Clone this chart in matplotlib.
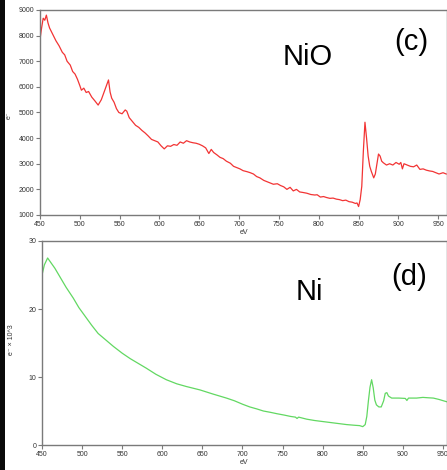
import matplotlib
matplotlib.use('Agg')
import matplotlib.pyplot as plt
from matplotlib.patches import Rectangle

plt.rcParams['font.family'] = ['Liberation Sans', 'DejaVu Sans']

# NiO survey spectrum (counts vs binding energy)
nio_ev = [450, 452, 454, 456, 458, 460, 462, 466, 470, 474, 478, 481, 484, 488, 491, 494,
          497, 500, 502, 505, 508, 511, 515, 519, 523, 527, 531, 534, 536, 538, 540, 543,
          546, 549, 553, 557, 559, 562, 566, 570, 574, 578, 582, 586, 590, 594, 598, 602,
          606, 610, 614, 618, 622, 626, 630, 634, 638, 642, 646, 650, 654, 658, 662, 665,
          668, 672, 676, 680, 684, 689, 693, 697, 701, 705, 710, 714, 718, 722, 726, 731,
          735, 739, 743, 748, 752, 756, 760, 764, 768, 772, 776, 780, 785, 790, 795, 798,
          802, 806, 810, 814, 818, 822, 826, 830, 834, 838, 842, 846, 848, 850, 852, 854,
          856, 858, 860, 862, 864, 866, 869, 871, 873, 875, 877, 879, 881, 885, 889, 893,
          897, 901, 903, 905, 907, 911, 915, 919, 923, 927, 931, 935, 939, 943, 947, 951,
          956, 960]
nio_counts = [7850, 8300, 8680, 8600, 8800, 8500, 8300, 8050, 7800, 7600, 7350, 7250, 7000,
              6850, 6600, 6500, 6300, 6050, 5870, 5950, 5780, 5820, 5600, 5450, 5290, 5500,
              5850, 6100, 6270, 5800, 5560, 5400, 5150, 5000, 4950, 5100, 5050, 4800, 4650,
              4500, 4420, 4300, 4200, 4080, 3950, 3900, 3850, 3700, 3580, 3700, 3680, 3750,
              3720, 3850, 3800, 3900, 3850, 3820, 3800, 3760, 3700, 3620, 3400, 3560, 3440,
              3350, 3250, 3200, 3100, 3020, 2900, 2850, 2800, 2730, 2690, 2650, 2600, 2500,
              2450, 2350, 2300, 2250, 2200, 2220, 2150, 2100, 2000, 2080, 1940, 2000, 1900,
              1880, 1850, 1800, 1780, 1790, 1700, 1720, 1680, 1650, 1660, 1620, 1600, 1560,
              1580, 1520, 1500, 1450, 1470, 1330, 1600, 2120, 3500, 4620, 4000, 3300, 2900,
              2700, 2450, 2600, 3000, 3380, 3300, 3100, 3040, 2950, 3000, 2950, 3050, 2980,
              3050, 2800, 3000, 2950, 2900, 2880, 2950, 2780, 2800, 2750, 2720, 2700, 2650,
              2600, 2650, 2600]

# Ni metal survey spectrum (counts x 10^3)
ni_ev = [450, 453, 457, 460, 466, 472, 480, 489, 496, 504, 512, 520, 530, 539, 550, 560,
         570, 580, 592, 605, 618, 630, 647, 663, 680, 690, 700, 709, 718, 726, 735, 743,
         752, 760, 766, 768, 770, 780, 790, 800, 810, 820, 830, 840, 846, 850, 853, 855,
         857, 859, 861, 863, 865, 867, 870, 873, 876, 878, 880, 882, 886, 895, 903, 905,
         907, 917, 925, 931, 938, 945, 952, 955]
ni_counts = [25.0, 26.5, 27.5, 27.0, 26.0, 24.8, 23.2, 21.6, 20.2, 18.9, 17.6, 16.4, 15.4,
             14.5, 13.5, 12.7, 12.0, 11.3, 10.4, 9.6, 9.0, 8.6, 8.1, 7.5, 6.9, 6.5, 6.0,
             5.6, 5.3, 5.0, 4.8, 4.6, 4.4, 4.2, 4.1, 3.9, 4.1, 3.8, 3.6, 3.45, 3.3, 3.15,
             3.0, 2.9, 2.85, 2.7, 3.0, 4.2, 6.5, 8.5, 9.6, 8.4, 6.6, 5.9, 5.6, 5.6, 6.5,
             7.6, 7.7, 7.2, 6.9, 6.9, 6.85, 6.55, 6.9, 6.9, 7.0, 6.95, 6.9, 6.7, 6.45, 6.35]

x_ticks = [450, 500, 550, 600, 650, 700, 750, 800, 850, 900, 950]

fig = plt.figure(figsize=(4.47, 4.70), dpi=100)
fig.patches.append(Rectangle((0, 0), 5 / 447, 1, transform=fig.transFigure,
                             facecolor='#0a0a0a', edgecolor='none'))


def style_axes(ax):
    for s in ax.spines.values():
        s.set_color('#7a7a7a')
        s.set_linewidth(1.0)
    ax.tick_params(direction='out', length=3, width=0.8, color='#7a7a7a',
                   labelsize=5, labelcolor='#333333', pad=1)
    ax.set_xticks(x_ticks)
    ax.set_xlabel('eV', fontsize=5, color='#333333', labelpad=1)


ax1 = fig.add_axes([40 / 447, 1 - 215 / 470, 407 / 447, 205 / 470])
ax1.plot(nio_ev, nio_counts, color='#f23434', lw=0.9)
ax1.set_xlim(450, 961)
ax1.set_ylim(1000, 9000)
ax1.set_yticks(range(1000, 9001, 1000))
style_axes(ax1)
ax1.set_ylabel('e⁻', fontsize=5, color='#333333')
ax1.yaxis.set_label_coords(13 / 447, 1 - 115 / 470, transform=fig.transFigure)

ax2 = fig.add_axes([42 / 447, 1 - 445 / 470, 405 / 447, 204 / 470])
ax2.plot(ni_ev, ni_counts, color='#62d862', lw=0.9)
ax2.set_xlim(450, 955)
ax2.set_ylim(0, 30)
ax2.set_yticks([0, 10, 20, 30])
style_axes(ax2)
ax2.set_ylabel('e⁻ × 10^3', fontsize=5, color='#333333')
ax2.yaxis.set_label_coords(15 / 447, 1 - 340 / 470, transform=fig.transFigure)

# sample labels
fig.text(308 / 447, 1 - 65 / 470, 'NiO', fontsize=21, ha='center', va='baseline')
fig.text(411 / 447, 1 - 50 / 470, '(c)', fontsize=21, ha='center', va='baseline')
fig.text(309 / 447, 1 - 300 / 470, 'Ni', fontsize=21, ha='center', va='baseline')
fig.text(409 / 447, 1 - 285 / 470, '(d)', fontsize=21, ha='center', va='baseline')

fig.savefig('out.png', dpi=100)
